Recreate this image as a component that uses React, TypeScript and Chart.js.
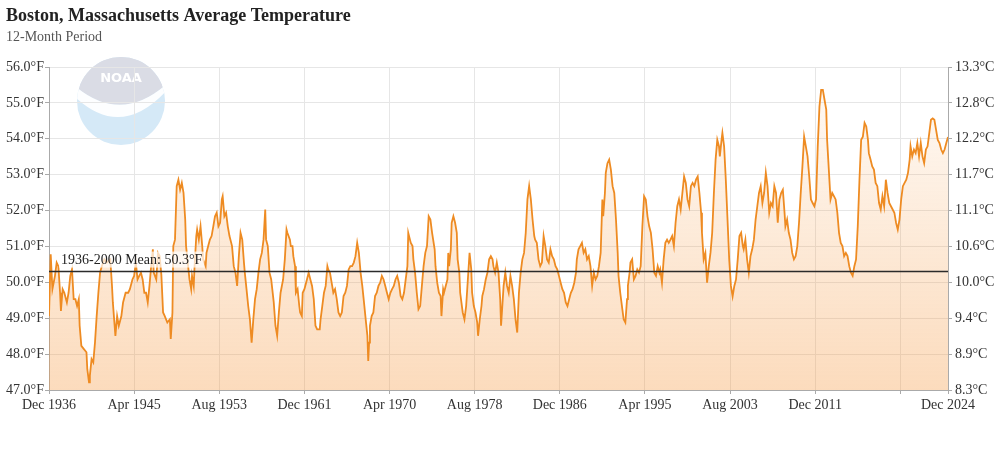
import React, { useEffect, useRef } from "react";
import { Chart, registerables } from "chart.js";

Chart.register(...registerables);

const TITLE = "Boston, Massachusetts Average Temperature";
const SUBTITLE = "12-Month Period";
const MEAN_LABEL = "1936-2000 Mean: 50.3°F";
const meanF = 50.3;

// months since Dec 1936
const monthOffset = [
  0, 2, 4, 7, 9, 11, 13, 14, 16, 18, 21, 23, 25, 27, 29, 31, 33, 35, 36, 38, 41, 44, 45, 47, 48, 50, 52, 54, 56, 58,
  60, 62, 65, 68, 72, 74, 75, 78, 80, 82, 85, 87, 90, 93, 95, 98, 100, 102, 104, 106, 108, 110, 112, 114, 116, 118,
  120, 122, 123, 126, 128, 130, 132,
  134, 136, 139, 142, 143, 145, 146, 148, 150, 152, 154, 156, 158, 160, 161, 163, 165, 167, 168, 170, 171, 173, 174,
  176, 178, 180, 181, 184, 185, 187, 189, 191, 193, 195, 197, 199, 201, 203, 204, 206, 208, 210, 212, 215, 217, 219,
  221, 223, 225, 227, 229, 230, 232, 234, 236, 238, 240, 242, 244, 246, 248,
  250, 252, 254, 255, 257, 259, 261, 264, 266, 268, 270, 272, 275, 277, 279, 280, 283, 284, 286, 287, 289, 290, 292,
  294, 295, 297, 298, 300, 301, 303, 305, 307, 309, 311, 313, 315, 318, 319, 321, 323, 325, 327, 328, 330, 332, 334,
  336, 338, 340, 342, 344, 346, 348, 350, 352, 354, 356, 358, 360, 362, 364, 366, 368, 370, 372, 374, 375, 376, 377,
  379, 381, 383, 385, 387, 389,
  391, 393, 395, 397, 399, 401, 403, 405, 407, 409, 411, 413, 415, 417, 419, 421, 422, 424, 425, 427, 428, 430, 432,
  434, 436, 438, 440, 442, 444, 446, 448, 450, 451, 453, 454, 456, 458, 460, 461, 463, 464, 466, 468, 469, 470, 472,
  473, 475, 477, 479, 480, 482, 483, 485, 486, 488, 490, 491, 493, 494, 496, 497, 499, 501, 503, 504, 506, 508, 509,
  511, 513, 515, 517, 519,
  521, 522, 524, 526, 528, 530, 531, 533, 534, 536, 538, 540, 542, 544, 546, 548, 550, 552, 554, 556, 558, 560, 562,
  564, 566, 568, 570, 571, 573, 575, 577, 579, 581, 583, 585, 587, 589, 591, 593, 595, 597, 599, 601, 603, 605, 607,
  609, 611, 613, 615, 617, 619, 620, 622, 624, 626, 628, 630, 632, 634, 636, 638, 640, 642, 644, 646, 648,
  650, 651, 653, 654, 656, 658, 660, 662, 664, 666, 668, 669, 671, 673, 675, 677, 679, 680, 682, 683, 685, 687, 689,
  691, 693, 695, 697, 699, 701, 703, 705, 707, 709, 711, 713, 715, 717, 718, 720, 722, 724, 726, 728, 730, 732, 734,
  736, 738, 740, 742, 744, 746, 748, 750, 752, 754, 756, 758, 760, 762, 764, 766, 767, 769, 771, 773, 775, 777,
  779, 781, 783, 785, 787, 788, 790, 791, 793, 795, 797, 799, 801, 803, 805, 807, 809, 811, 813, 815, 816, 818, 820,
  822, 824, 826, 828, 830, 832, 834, 836, 838, 840, 842, 844, 846, 848, 850, 852, 854, 856, 858, 860, 862, 864, 865,
  867, 869, 871, 873, 875, 877, 879, 881, 883, 885, 887, 889, 891, 893, 895, 897, 899, 901, 903, 905, 907,
  909, 911, 913, 914, 916, 918, 920, 922, 924, 926, 928, 930, 932, 934, 936, 938, 940, 942, 944, 946, 948, 950, 952,
  954, 956, 958, 960, 962, 963, 965, 967, 969, 971, 973, 975, 977, 979, 981, 983, 985, 987, 989, 991, 993, 995, 997,
  999, 1001, 1003, 1005, 1007, 1009, 1011, 1012, 1014, 1016, 1018, 1020, 1022, 1024, 1026, 1028, 1030, 1032, 1034,
  1036, 1038, 1040, 1042, 1044, 1046, 1048, 1050, 1052, 1054, 1056,
];

// 12-month average temperature, °F
const avgTempF = [
  49.06, 50.78, 49.81, 50.18, 50.55, 50.45, 49.71, 49.2, 49.81, 49.71, 49.44, 49.71, 50.18, 50.36, 49.53, 49.53, 49.34,
  49.53, 48.79, 48.23, 48.14, 48.05, 47.58, 47.21, 47.4, 47.86, 47.77, 48.32, 49.06, 49.71,
  50.27, 50.45, 50.64, 50.55, 50.64, 49.9, 49.44, 48.51, 49.06, 48.79, 49.06, 49.44, 49.71, 49.71, 49.81, 50.08, 50.18,
  50.55, 50.08, 50.18, 50.27, 50.08, 49.71, 49.71, 49.44, 49.9,
  50.45, 50.92, 50.27, 50.08, 50.82, 50.73, 50.2,
  49.16, 49.06, 48.88, 48.97, 48.42, 49.16, 51.01, 51.19, 52.68, 52.86, 52.58, 52.77, 52.49, 51.75, 51.01, 50.55, 50.08,
  49.81, 50.18, 49.9, 50.45, 51.29, 51.47,
  51.19, 51.56, 51.01, 50.64, 50.45, 50.82, 51.01, 51.19, 51.29, 51.56, 51.84, 51.94, 51.56, 51.66, 52.31, 52.4, 51.84,
  51.94, 51.56, 51.29, 51.01, 50.45, 50.27,
  49.9, 50.73, 51.38, 51.19, 50.55, 50.27, 49.81, 49.34, 48.97, 48.32, 48.97, 49.53, 49.81, 50.27, 50.64,
  50.82, 51.19, 52.03, 51.19, 51.01, 50.27, 50.08, 49.44, 48.79, 48.51, 49.16, 49.71, 50.08, 50.64, 51.47, 51.38, 51.19,
  51.01, 51.01, 50.73, 50.45, 49.71, 49.81,
  49.34, 49.16, 49.06, 49.71, 49.81, 49.9, 50.08, 50.27, 50.08, 49.9, 49.53, 48.79, 48.69, 48.69, 48.97, 49.34, 49.71,
  49.9, 50.45, 50.36, 50.27, 49.99, 49.71,
  49.81, 49.53, 49.16, 49.06, 49.16, 49.62, 49.71, 49.9, 50.36, 50.45, 50.45, 50.55, 50.73, 51.1, 50.82, 50.27, 49.9,
  49.44, 48.97, 48.51, 47.81, 48.32, 48.79,
  49.06, 49.16, 49.62, 49.71, 49.9, 49.99,
  50.18, 50.08, 49.9, 49.71, 49.53, 49.71, 49.81, 49.9, 50.08, 50.18, 49.99, 49.62, 49.53, 49.71, 50.08, 50.45, 51.38,
  51.19, 51.1, 51.01, 50.64, 50.27, 49.71,
  49.25, 49.34, 49.9, 50.45, 50.82, 51.01, 51.84, 51.75, 51.38, 51.38, 50.92, 50.45, 49.99, 49.71, 49.62, 49.06, 49.81,
  49.71, 49.9, 50.08, 50.82, 50.45, 50.92,
  51.66, 51.84, 51.66, 51.38, 50.64, 50.27, 49.71, 49.34, 49.16, 48.97, 49.34, 49.71, 50.45, 50.82, 50.36, 49.71, 49.34,
  49.16, 48.88, 48.51, 48.97, 49.34, 49.62,
  49.81, 50.08, 50.27, 50.64, 50.73,
  50.64, 50.45, 50.27, 50.55, 50.27, 49.53, 48.79, 49.53, 49.9, 50.27, 49.9, 49.71, 50.18, 49.9, 49.53, 48.97, 48.6,
  49.71, 50.27, 50.64, 50.82, 51.38, 52.31,
  52.68, 52.31, 51.75, 51.29, 51.19, 51.1, 50.64, 50.45, 50.55, 51.29, 51.01, 50.64, 50.55, 50.92, 50.73, 50.64, 50.45,
  50.36, 50.18, 49.99, 49.81, 49.71, 49.44,
  49.34, 49.53, 49.71, 49.81, 49.99, 50.27, 50.64, 50.92, 51.01, 51.1, 50.82, 50.92, 50.64, 50.73, 50.45, 49.9, 50.27,
  50.08, 50.18, 50.45, 50.82,
  52.31, 51.84, 52.49, 53.05, 53.32, 53.42, 53.14, 52.68, 52.49, 51.75, 50.82, 50.18, 49.71, 49.34, 48.97, 48.88, 49.53,
  49.9, 50.27, 50.55, 50.64, 50.08, 50.18,
  50.36, 50.27, 50.45, 51.56, 52.4, 52.31, 51.84, 51.56, 51.38, 50.92, 50.27, 50.18, 50.45, 50.27, 50.36, 49.99, 50.64,
  51.1, 51.19, 51.1, 51.19, 51.29, 51.01,
  51.66, 52.12, 52.31, 52.03, 52.49, 52.95, 52.77, 52.31, 52.12, 52.68, 52.77, 52.68, 52.86, 52.95, 52.49, 51.94, 51.38,
  50.64, 50.82, 49.99, 50.45, 50.82,
  51.38, 52.49, 53.42, 53.97, 53.79, 53.51, 53.97, 54.16, 53.79, 52.86, 51.75, 50.64, 49.9, 49.61, 49.9, 50.08, 50.64,
  51.29, 51.38, 51.01, 50.92, 51.19, 50.64,
  50.27, 50.73, 50.92, 51.19, 51.75, 52.12, 52.49, 52.68, 52.21, 52.49, 53.05, 52.68, 51.94, 52.21, 52.12, 52.68, 52.49,
  51.66, 52.31, 52.49, 52.58, 51.94, 51.56,
  51.75, 51.38, 51.19, 50.82, 50.64, 50.73, 51.01, 51.66, 52.49, 53.23, 54.06, 53.79, 53.51, 52.95, 52.31, 52.21, 52.12,
  52.31, 53.79, 54.9, 55.36,
  55.36, 55.08, 54.81, 53.97, 53.14, 52.31, 52.49, 52.4, 52.31, 51.94, 51.38, 51.1, 51.01, 50.73, 50.82, 50.73, 50.45,
  50.27, 50.18, 50.45, 50.64, 51.56, 52.86,
  53.97, 54.06, 54.44, 54.34, 53.97, 53.6, 53.42, 53.23, 53.14, 52.77, 52.68, 52.21, 52.03, 52.4, 52.12, 52.86, 52.49,
  52.21, 52.12, 52.03, 51.94, 51.66, 51.47,
  51.75, 52.31, 52.68, 52.77, 52.86, 53.05, 53.42, 53.79, 53.51, 53.7, 53.6, 53.88, 53.51, 53.88, 53.51, 53.32, 53.7,
  53.79, 54.16,
  54.53, 54.57, 54.53, 54.25, 53.97, 53.88, 53.7, 53.6, 53.7, 53.88, 54.05,
];

const xTickMonths = [0, 100, 200, 300, 400, 500, 600, 700, 800, 900, 1000, 1056];
const xTickLabels = [
  "Dec 1936", "Apr 1945", "Aug 1953", "Dec 1961", "Apr 1970", "Aug 1978",
  "Dec 1986", "Apr 1995", "Aug 2003", "Dec 2011", "", "Dec 2024",
];
const yTicksF = [47, 48, 49, 50, 51, 52, 53, 54, 55, 56];

const SERIF = "'Liberation Serif', 'Times New Roman', Times, serif";

const noaaLogo = {
  id: "noaaLogo",
  beforeDraw(chart: any) {
    const { ctx, chartArea } = chart;
    if (!chartArea) return;
    const cx = chartArea.left + 72;
    const cy = chartArea.top + 34;
    const r = 44;
    ctx.save();
    ctx.beginPath();
    ctx.arc(cx, cy, r, 0, Math.PI * 2);
    ctx.clip();
    ctx.fillStyle = "#d5e9f7";
    ctx.fillRect(cx - r, cy - r, 2 * r, 2 * r);
    // upper shield
    ctx.fillStyle = "#dadce5";
    ctx.beginPath();
    ctx.moveTo(cx - r, cy - r);
    ctx.lineTo(cx + r, cy - r);
    ctx.lineTo(cx + r, cy - 0.35 * r);
    ctx.quadraticCurveTo(cx, cy + 0.5 * r, cx - r, cy - 0.3 * r);
    ctx.closePath();
    ctx.fill();
    // white bird band
    ctx.fillStyle = "#fdfeff";
    ctx.beginPath();
    ctx.moveTo(cx - r, cy - 0.3 * r);
    ctx.quadraticCurveTo(cx, cy + 0.5 * r, cx + r, cy - 0.35 * r);
    ctx.lineTo(cx + r, cy - 0.2 * r);
    ctx.quadraticCurveTo(cx, cy + 0.85 * r, cx - r, cy - 0.05 * r);
    ctx.closePath();
    ctx.fill();
    // NOAA text
    ctx.fillStyle = "#ffffff";
    ctx.font = "bold 13px 'DejaVu Sans', sans-serif";
    ctx.textAlign = "center";
    ctx.textBaseline = "middle";
    ctx.fillText("NOAA", cx, cy - 0.5 * r);
    ctx.restore();
  },
};

const meanLabel = {
  id: "meanLabel",
  afterDatasetsDraw(chart: any) {
    const { ctx, chartArea, scales } = chart;
    const y = scales.y.getPixelForValue(meanF);
    ctx.save();
    ctx.font = `14px ${SERIF}`;
    const w = ctx.measureText(MEAN_LABEL).width;
    const x = chartArea.left + 12;
    ctx.fillStyle = "rgba(255,255,255,0.7)";
    ctx.fillRect(x - 2, y - 20, w + 4, 16);
    ctx.fillStyle = "#222";
    ctx.textAlign = "left";
    ctx.textBaseline = "middle";
    ctx.fillText(MEAN_LABEL, x, y - 11);
    ctx.restore();
  },
};

export default function App() {
  const canvasRef = useRef<HTMLCanvasElement | null>(null);

  useEffect(() => {
    document.body.style.margin = "0";
    const canvas = canvasRef.current;
    if (!canvas) return;
    const points = monthOffset.map((m, i) => ({ x: m, y: avgTempF[i] }));
    const chart = new Chart(canvas, {
      type: "line",
      data: {
        datasets: [
          {
            label: "1936-2000 Mean",
            data: [
              { x: xTickMonths[0], y: meanF },
              { x: xTickMonths[xTickMonths.length - 1], y: meanF },
            ],
            borderColor: "#2b2b2b",
            borderWidth: 1.5,
            pointRadius: 0,
            fill: false,
            order: 0,
          },
          {
            label: "12-Month Average Temperature",
            data: points,
            borderColor: "#ee8b22",
            borderWidth: 1.8,
            pointRadius: 0,
            tension: 0,
            fill: "start",
            order: 1,
            backgroundColor: (context: any) => {
              const { chart: ch } = context;
              const area = ch.chartArea;
              if (!area) return "rgba(245,150,60,0.2)";
              const g = ch.ctx.createLinearGradient(0, area.top, 0, area.bottom);
              g.addColorStop(0, "rgba(245,150,60,0.04)");
              g.addColorStop(1, "rgba(245,150,60,0.34)");
              return g;
            },
          },
        ],
      },
      options: {
        responsive: false,
        animation: false,
        parsing: false,
        normalized: true,
        layout: { padding: { left: 6, top: 6, right: 0, bottom: 0 } },
        plugins: {
          legend: { display: false },
          tooltip: { enabled: false },
          title: {
            display: true,
            text: TITLE,
            align: "start",
            color: "#222",
            font: { family: SERIF, size: 18, weight: "bold" },
            padding: { top: 0, bottom: 1 },
          },
          subtitle: {
            display: true,
            text: SUBTITLE,
            align: "start",
            color: "#555",
            font: { family: SERIF, size: 14 },
            padding: { top: 0, bottom: 21.6 },
          },
        },
        scales: {
          x: {
            type: "linear",
            min: 0,
            max: 1056,
            afterBuildTicks: (s: any) => {
              s.ticks = xTickMonths.map((v) => ({ value: v }));
            },
            afterFit: (s: any) => {
              s.height = 60;
            },
            ticks: {
              autoSkip: false,
              maxRotation: 0,
              padding: 3,
              color: "#333",
              font: { family: SERIF, size: 14 },
              callback: (v: any) => {
                const i = xTickMonths.indexOf(Number(v));
                return i >= 0 ? xTickLabels[i] : "";
              },
            },
            grid: { color: "#e6e6e6", tickLength: 4, tickColor: "#aaa" },
            border: { color: "#aaa" },
          },
          y: {
            type: "linear",
            position: "left",
            min: 47,
            max: 56,
            afterBuildTicks: (s: any) => {
              s.ticks = yTicksF.map((v) => ({ value: v }));
            },
            afterFit: (s: any) => {
              s.width = 43;
            },
            ticks: {
              padding: 1,
              color: "#333",
              font: { family: SERIF, size: 14 },
              callback: (v: any) => Number(v).toFixed(1) + "°F",
            },
            grid: { color: "#e6e6e6", tickLength: 4, tickColor: "#aaa" },
            border: { color: "#aaa" },
          },
          yC: {
            type: "linear",
            position: "right",
            min: 47,
            max: 56,
            afterBuildTicks: (s: any) => {
              s.ticks = yTicksF.map((v) => ({ value: v }));
            },
            afterFit: (s: any) => {
              s.width = 52;
            },
            ticks: {
              padding: 3,
              color: "#333",
              font: { family: SERIF, size: 14 },
              callback: (v: any) => (((Number(v) - 32) * 5) / 9).toFixed(1) + "°C",
            },
            grid: { drawOnChartArea: false, tickLength: 4, tickColor: "#aaa" },
            border: { color: "#aaa" },
          },
        },
      },
      plugins: [noaaLogo, meanLabel],
    } as any);
    return () => chart.destroy();
  }, []);

  return (
    <div style={{ width: 1000, height: 450, background: "#fff" }}>
      <canvas ref={canvasRef} width={1000} height={450} />
    </div>
  );
}
